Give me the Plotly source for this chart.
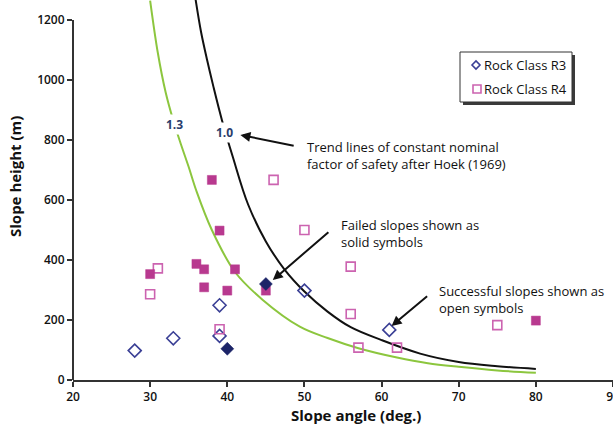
import plotly.graph_objects as go

# Rock Class R3 slopes (diamonds)
r3_ok_angle = [28, 33, 39, 39, 50, 61]
r3_ok_height = [98, 139, 249, 147, 298, 167]
r3_fail_angle = [40, 45]
r3_fail_height = [104, 320]

# Rock Class R4 slopes (squares)
r4_ok_angle = [30, 31, 39, 46, 50, 56, 56, 57, 62, 75]
r4_ok_height = [286, 372, 169, 667, 500, 378, 220, 108, 108, 183]
r4_fail_angle = [30, 36, 37, 37, 38, 39, 40, 41, 45, 80]
r4_fail_height = [353, 387, 369, 309, 667, 498, 298, 369, 298, 198]

# Hoek (1969) trend lines of constant factor of safety
fs10_angle = [35.9, 36.6, 37.4, 38.2, 39.3, 40.7, 42.7, 45.0, 47.4, 50.0, 53.0, 56.0, 60.0, 65.0, 70.0, 75.0, 80.0]
fs10_height = [1267, 1160, 1065, 978, 867, 745, 585, 462, 369, 295, 228, 176, 133, 88, 60, 46, 37]
fs13_angle = [30.0, 31.0, 32.0, 33.0, 34.0, 35.0, 36.0, 38.0, 41.0, 44.6, 49.4, 53.0, 57.0, 62.0, 66.0, 70.0, 75.0, 80.0]
fs13_height = [1265, 1090, 960, 865, 785, 710, 630, 500, 360, 267, 178, 140, 106, 75, 56, 44, 32, 24]

x_ticks = [20, 30, 40, 50, 60, 70, 80, 90]
y_ticks = [0, 200, 400, 600, 800, 1000, 1200]

legend_names = ["Rock Class R3", "Rock Class R4"]

FONT = "Open Sans"
PINK = "#b8398f"
PINK_OPEN = "#cc63b0"
NAVY = "#3a3f95"
NAVY_FILL = "#1c2468"
LABEL_BLUE = "#2a3d6c"

# plot-area geometry (pixels) used to place the framed key box
L, T, W, H = 73, 0, 540, 380


def px(x):
    return (x - L) / W


def py(y):
    return (T + H - y) / H


fig = go.Figure()

fig.add_trace(go.Scatter(x=fs13_angle, y=fs13_height, mode="lines",
                         line=dict(color="#8cc63e", width=2, shape="spline"),
                         showlegend=False, hoverinfo="skip"))
fig.add_trace(go.Scatter(x=fs10_angle, y=fs10_height, mode="lines",
                         line=dict(color="#111111", width=2, shape="spline"),
                         showlegend=False, hoverinfo="skip"))

fig.add_trace(go.Scatter(x=r3_ok_angle, y=r3_ok_height, mode="markers", name=legend_names[0],
                         marker=dict(symbol="diamond-open", size=10, color=NAVY,
                                     line=dict(width=1.6, color=NAVY))))
fig.add_trace(go.Scatter(x=r4_ok_angle, y=r4_ok_height, mode="markers", name=legend_names[1],
                         marker=dict(symbol="square-open", size=9, color=PINK_OPEN,
                                     line=dict(width=1.6, color=PINK_OPEN))))
fig.add_trace(go.Scatter(x=r4_fail_angle, y=r4_fail_height, mode="markers", name=legend_names[1],
                         marker=dict(symbol="square", size=9, color=PINK,
                                     line=dict(width=0.5, color=PINK))))
fig.add_trace(go.Scatter(x=r3_fail_angle, y=r3_fail_height, mode="markers", name=legend_names[0],
                         marker=dict(symbol="diamond", size=10, color=NAVY_FILL,
                                     line=dict(width=0.5, color=NAVY_FILL))))

TXT = dict(family=FONT, size=13, color="#111111")

annotations = [
    dict(x=33.1, y=853, text="<b>1.3</b>", showarrow=False, bgcolor="white",
         font=dict(family=FONT, size=12, color=LABEL_BLUE)),
    dict(x=39.7, y=825, text="<b>1.0</b>", showarrow=False, bgcolor="white",
         font=dict(family=FONT, size=12, color=LABEL_BLUE)),
    # arrows
    dict(x=41.7, y=817, ax=48.8, ay=780, axref="x", ayref="y", text="", showarrow=True,
         arrowhead=2, arrowsize=1, arrowwidth=2, arrowcolor="#111111"),
    dict(x=45.9, y=333, ax=53.3, ay=497, axref="x", ayref="y", text="", showarrow=True,
         arrowhead=2, arrowsize=1, arrowwidth=2, arrowcolor="#111111"),
    dict(x=61.3, y=180, ax=66.1, ay=283, axref="x", ayref="y", text="", showarrow=True,
         arrowhead=2, arrowsize=1, arrowwidth=2, arrowcolor="#111111"),
    # callout texts
    dict(x=50.1, y=750, text="Trend lines of constant nominal<br>factor of safety after Hoek (1969)",
         showarrow=False, xanchor="left", yanchor="middle", align="left", font=TXT),
    dict(x=54.5, y=487, text="Failed slopes shown as<br>solid symbols",
         showarrow=False, xanchor="left", yanchor="middle", align="left", font=TXT),
    dict(x=67.2, y=267, text="Successful slopes shown as<br>open symbols",
         showarrow=False, xanchor="left", yanchor="middle", align="left", font=TXT),
    # key entries
    dict(x=px(482), y=py(65), xref="paper", yref="paper", text=legend_names[0],
         showarrow=False, xanchor="left", yanchor="middle", font=TXT),
    dict(x=px(482), y=py(89), xref="paper", yref="paper", text=legend_names[1],
         showarrow=False, xanchor="left", yanchor="middle", font=TXT),
    # axis titles
    dict(x=px(356), y=py(415), xref="paper", yref="paper", text="<b>Slope angle (deg.)</b>",
         showarrow=False, xanchor="center", yanchor="middle",
         font=dict(family=FONT, size=15, color="#111111")),
    dict(x=px(15), y=py(177), xref="paper", yref="paper", text="<b>Slope height (m)</b>",
         textangle=-90, showarrow=False, xanchor="center", yanchor="middle",
         font=dict(family=FONT, size=15, color="#111111")),
]

dx, dy = 476, 65   # diamond key centre
sx, sy = 477, 89   # square key centre
shapes = [
    # y axis line stops at the top tick
    dict(type="line", xref="paper", yref="y", x0=0, x1=0, y0=0, y1=1200,
         line=dict(color="#333333", width=2)),
    # key box: drop shadow, then framed white panel
    dict(type="rect", xref="paper", yref="paper", layer="above",
         x0=px(463), x1=px(575), y0=py(105), y1=py(55),
         fillcolor="#3a3a3a", line=dict(width=0)),
    dict(type="rect", xref="paper", yref="paper", layer="above",
         x0=px(460), x1=px(572), y0=py(102), y1=py(52),
         fillcolor="white", line=dict(color="#333333", width=1)),
    dict(type="path", xref="paper", yref="paper", layer="above",
         path=(f"M {px(dx - 4)} {py(dy)} L {px(dx)} {py(dy - 4)} "
               f"L {px(dx + 4)} {py(dy)} L {px(dx)} {py(dy + 4)} Z"),
         line=dict(color=NAVY, width=1.6)),
    dict(type="rect", xref="paper", yref="paper", layer="above",
         x0=px(sx - 4), x1=px(sx + 4), y0=py(sy + 4), y1=py(sy - 4),
         line=dict(color=PINK_OPEN, width=1.6)),
]

fig.update_layout(
    width=613, height=430,
    margin=dict(l=L, r=0, t=T, b=430 - H - T, autoexpand=False),
    paper_bgcolor="white", plot_bgcolor="white",
    font=dict(family=FONT, color="#111111"),
    annotations=annotations, shapes=shapes, showlegend=False,
    xaxis=dict(range=[20, 90], tickvals=x_ticks, showgrid=False, zeroline=False,
               showline=True, linecolor="#333333", linewidth=2,
               ticks="outside", ticklen=5, tickcolor="#333333", tickwidth=1.5,
               ticklabeloverflow="allow", automargin=False,
               tickfont=dict(family=FONT, size=12, color="#111111", weight=600)),
    yaxis=dict(range=[0, 1266.7], tickvals=y_ticks, showgrid=False, zeroline=False,
               showline=False, ticks="outside", ticklen=5, tickcolor="#333333", tickwidth=1.5,
               automargin=False,
               tickfont=dict(family=FONT, size=12, color="#111111", weight=600)),
)

fig.write_html("out.html")
